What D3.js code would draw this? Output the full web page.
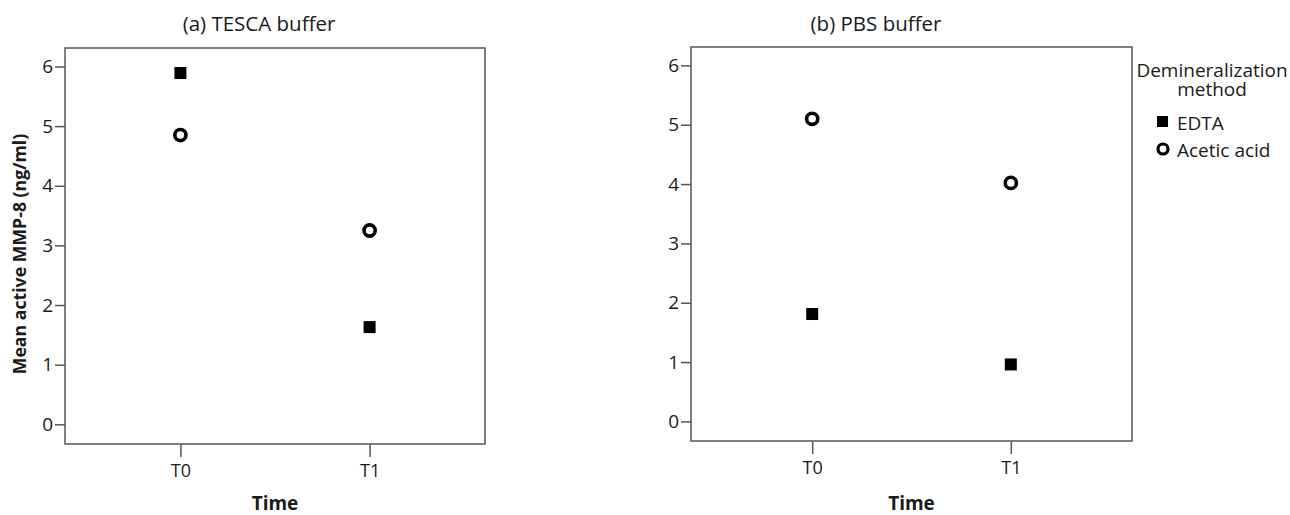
<!DOCTYPE html>
<html>
<head>
<meta charset="utf-8">
<script src="https://cdn.jsdelivr.net/npm/d3@7"></script>
<style>
  html, body { margin: 0; padding: 0; background: #fff; }
  svg { display: block; font-family: "Open Sans", "Noto Sans", sans-serif; }
</style>
</head>
<body>
<svg id="chart" width="1290" height="515"></svg>
<script>
const categories = ["T0", "T1"];
const yTicks = [0, 1, 2, 3, 4, 5, 6];
const seriesNames = ["EDTA", "Acetic acid"];
const panelTitles = ["(a) TESCA buffer", "(b) PBS buffer"];
const tescaEDTA = [5.89, 1.63];
const tescaAcetic = [4.85, 3.25];
const pbsEDTA = [1.81, 0.96];
const pbsAcetic = [5.10, 4.02];

const svg = d3.select("#chart");
const axisColor = "#555";
const textColor = "#1a1a1a";

const panels = [
  { title: panelTitles[0], edta: tescaEDTA, acetic: tescaAcetic,
    left: 65, right: 485, top: 48, bottom: 444, titleX: 259, showYLabel: true },
  { title: panelTitles[1], edta: pbsEDTA, acetic: pbsAcetic,
    left: 691, right: 1132, top: 47, bottom: 441, titleX: 876, showYLabel: false }
];

panels.forEach(p => {
  const x = d3.scalePoint().domain(categories).range([p.left, p.right]).padding(0.61);
  const y = d3.scaleLinear().domain([-0.33, 6.31]).range([p.bottom, p.top]);
  const g = svg.append("g");

  // frame
  g.append("rect")
    .attr("x", p.left).attr("y", p.top)
    .attr("width", p.right - p.left).attr("height", p.bottom - p.top)
    .attr("fill", "none").attr("stroke", axisColor).attr("stroke-width", 1.5);

  // y axis
  const yAxis = g.append("g")
    .attr("transform", `translate(${p.left},0)`)
    .call(d3.axisLeft(y).tickValues(yTicks).tickFormat(d3.format("d")).tickSize(10).tickPadding(2));
  yAxis.select(".domain").remove();
  yAxis.selectAll("line").attr("stroke", axisColor).attr("stroke-width", 1.5);
  yAxis.selectAll("text").attr("font-size", 19).attr("fill", textColor)
    .attr("font-family", "'Open Sans', sans-serif");

  // x axis
  const xAxis = g.append("g")
    .attr("transform", `translate(0,${p.bottom})`)
    .call(d3.axisBottom(x).tickSize(13).tickPadding(7));
  xAxis.select(".domain").remove();
  xAxis.selectAll("line").attr("stroke", axisColor).attr("stroke-width", 1.5);
  xAxis.selectAll("text").attr("font-size", 18).attr("fill", textColor)
    .attr("font-family", "'Open Sans', sans-serif");

  // title
  g.append("text")
    .attr("x", p.titleX).attr("y", 31)
    .attr("text-anchor", "middle")
    .attr("font-size", 20.5).attr("fill", textColor)
    .text(p.title);

  // x label
  g.append("text")
    .attr("x", (p.left + p.right) / 2).attr("y", 510)
    .attr("text-anchor", "middle")
    .attr("font-size", 19).attr("font-weight", "bold").attr("fill", textColor)
    .text("Time");

  if (p.showYLabel) {
    g.append("text")
      .attr("transform", `translate(26,${(p.top + p.bottom) / 2 + 8}) rotate(-90)`)
      .attr("text-anchor", "middle")
      .attr("font-size", 17.7).attr("font-weight", "bold").attr("fill", textColor)
      .text("Mean active MMP-8 (ng/ml)");
  }

  // EDTA squares
  const sq = 12;
  g.selectAll("rect.edta").data(p.edta).enter().append("rect")
    .attr("class", "edta")
    .attr("x", (d, i) => x(categories[i]) - sq / 2)
    .attr("y", d => y(d) - sq / 2)
    .attr("width", sq).attr("height", sq)
    .attr("fill", "#000");

  // Acetic acid circles
  g.selectAll("circle.acetic").data(p.acetic).enter().append("circle")
    .attr("class", "acetic")
    .attr("cx", (d, i) => x(categories[i]))
    .attr("cy", d => y(d))
    .attr("r", 5.6)
    .attr("fill", "#fff").attr("stroke", "#000").attr("stroke-width", 3.6);
});

// legend
const leg = svg.append("g");
const legTitle = leg.append("text").attr("text-anchor", "middle")
  .attr("font-size", 19).attr("fill", textColor);
legTitle.append("tspan").attr("x", 1212).attr("y", 77).text("Demineralization");
legTitle.append("tspan").attr("x", 1212).attr("y", 96).text("method");

const legItems = d3.range(seriesNames.length);
leg.selectAll("text.item").data(legItems).enter().append("text")
  .attr("class", "item")
  .attr("x", 1177).attr("y", i => 130 + i * 27)
  .attr("font-size", 19).attr("fill", textColor)
  .text(i => seriesNames[i]);

leg.append("rect").attr("x", 1157).attr("y", 116).attr("width", 11).attr("height", 11).attr("fill", "#000");
leg.append("circle").attr("cx", 1163).attr("cy", 149).attr("r", 5)
  .attr("fill", "#fff").attr("stroke", "#000").attr("stroke-width", 3.2);
</script>
</body>
</html>
